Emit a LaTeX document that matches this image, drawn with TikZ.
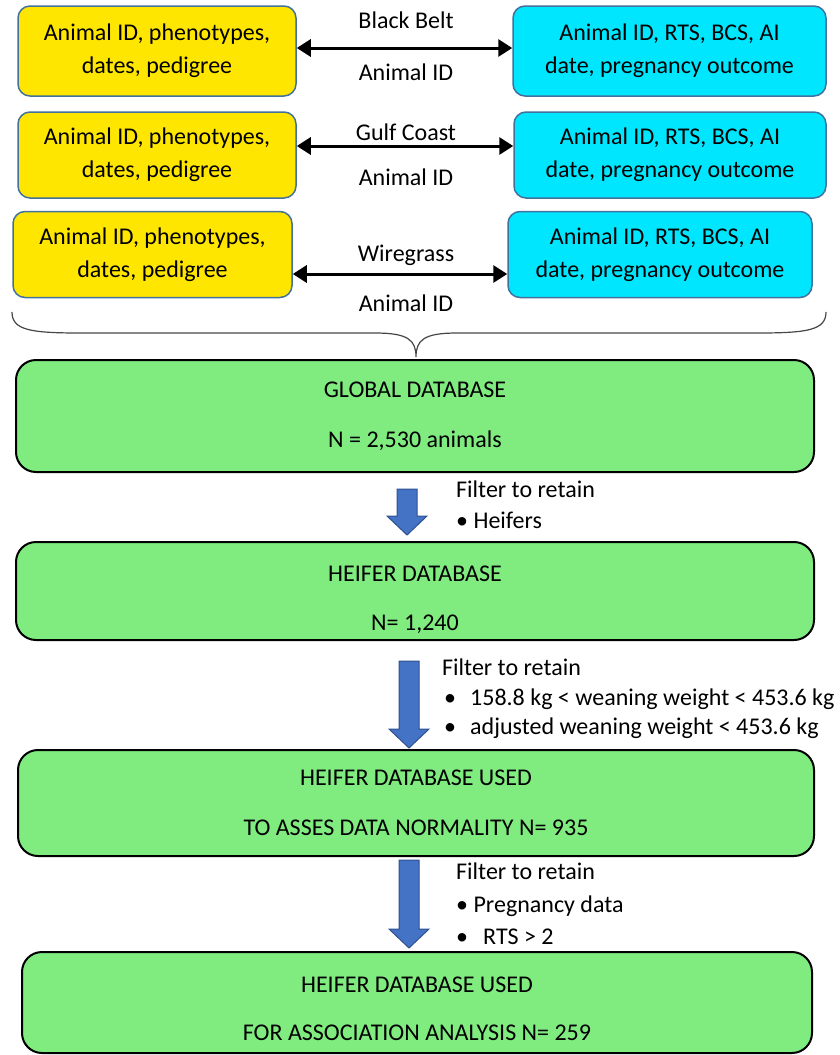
\documentclass[tikz,border=0pt]{standalone}
\usepackage{fontspec}
\setmainfont{Carlito}
\usetikzlibrary{arrows.meta}
\definecolor{boxyellow}{RGB}{255,230,0}
\definecolor{boxcyan}{RGB}{0,230,255}
\definecolor{boxgreen}{RGB}{128,236,128}
\definecolor{boxedge}{RGB}{65,113,156}
\definecolor{flowblue}{RGB}{68,114,196}
\definecolor{flowedge}{RGB}{47,82,143}
\definecolor{bracegray}{RGB}{70,70,70}
\begin{document}
\begin{tikzpicture}[x=1pt,y=-1pt,
	every node/.style={font=\fontsize{24}{29}\selectfont, inner sep=0pt},
	source/.style={draw=boxedge, line width=1.5pt, rounded corners=12pt, align=center, font=\fontsize{24}{33}\selectfont},
	database/.style={draw=black, line width=2pt, fill=boxgreen, rounded corners=20pt, align=center},
	linkarrow/.style={line width=3pt, {Triangle[length=14pt,width=17pt]}-{Triangle[length=14pt,width=17pt]}},
	flowarrow/.style={fill=flowblue, draw=flowedge, line width=1pt},
	filtertext/.style={align=left, anchor=north west}]
	\useasboundingbox (0,0) rectangle (840,1055);
		\foreach \i/\yx/\yw/\cx/\cw/\ry/\h/\sh/\reg/\ty/\by in {
			1/157/278/669.5/313/51/90/3/Black Belt/20/72,
			2/157/278/670/312/155/86/9/Gulf Coast/132/177,
			3/152.5/279/660/304/254.5/86/-19.5/Wiregrass/255/303}{
				\node[source, fill=boxyellow, minimum width=\yw pt, minimum height=\h pt] (y\i) at (\yx,\ry) {Animal ID, phenotypes,\\dates, pedigree};
				\node[source, fill=boxcyan, minimum width=\cw pt, minimum height=\h pt] (c\i) at (\cx,\ry) {Animal ID, RTS, BCS, AI\\date, pregnancy outcome};
				\draw[linkarrow] ([yshift=\sh pt]y\i.east) -- ([yshift=\sh pt]c\i.west);
				\node (reg\i) at (406,\ty) {\reg};
				\node (id\i) at (406,\by) {Animal ID};
			}
		\draw[bracegray, line width=1.2pt] (12,312) .. controls (12,330) and (30,333) .. (80,333) -- (375,333)
			.. controls (408,333) and (416,340) .. (416,357) .. controls (416,340) and (424,333) .. (457,333)
			-- (758,333) .. controls (808,333) and (826,330) .. (826,312);
		\node[database, minimum width=798pt, minimum height=112pt] (g1) at (415,416) {GLOBAL DATABASE\\[21pt]N = 2,530 animals};
		\node[database, minimum width=798pt, minimum height=98pt] (g2) at (415,591) {\rule{0pt}{32.5pt}HEIFER DATABASE\\[20pt]N= 1,240};
		\node[database, minimum width=796pt, minimum height=106pt] (g3) at (416,803) {HEIFER DATABASE USED\\[21pt]TO ASSES DATA NORMALITY N= 935};
		\node[database, minimum width=790pt, minimum height=101pt] (g4) at (417,1002.5) {\rule{0pt}{27.5pt}HEIFER DATABASE USED\\[19pt]FOR ASSOCIATION ANALYSIS N= 259};
		\foreach \x/\ya/\yb in {407/489/535, 409/661/748, 409/860/948}
			\filldraw[flowarrow] (\x-10,\ya) -- (\x+10,\ya) -- (\x+10,\yb-19) -- (\x+20,\yb-19) -- (\x,\yb)
				-- (\x-20,\yb-19) -- (\x-10,\yb-19) -- cycle;
		\node[filtertext, font=\fontsize{24}{31}\selectfont] (f1) at (456,480.5) {Filter to retain\\\textbullet\ Heifers};
		\node[filtertext, font=\fontsize{24}{29.5}\selectfont] (f2) at (442,659) {Filter to retain\\
			\hspace*{2pt}\makebox[26pt][l]{\textbullet}158.8 kg < weaning weight < 453.6 kg\\
			\hspace*{2pt}\makebox[26pt][l]{\textbullet}adjusted weaning weight < 453.6 kg};
		\node[filtertext, font=\fontsize{24}{32.5}\selectfont] (f3) at (456,863) {Filter to retain\\
			\textbullet\ Pregnancy data\\
			\makebox[27pt][l]{\textbullet}RTS > 2};
	\end{tikzpicture}
\end{document}
